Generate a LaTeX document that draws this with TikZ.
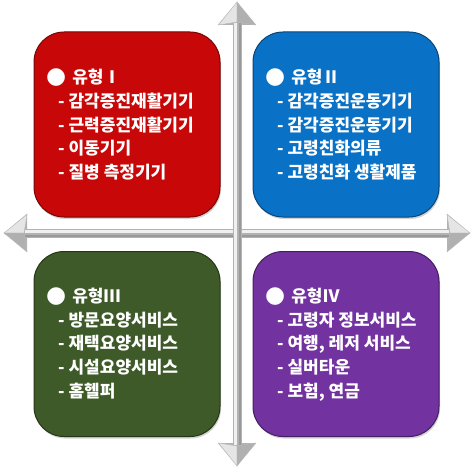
\documentclass[tikz,border=0pt]{standalone}
\usepackage{fontspec}
\newfontfamily\kr{Noto Sans CJK KR}
\newfontfamily\sym{DejaVu Sans}
\usetikzlibrary{arrows.meta,shadows}

\definecolor{typeI}{HTML}{C80808}
\definecolor{typeII}{HTML}{0A72C6}
\definecolor{typeIII}{HTML}{3D5A28}
\definecolor{typeIV}{HTML}{7232A0}

\newcommand{\dotmark}{{\sym\fontsize{23}{23}\selectfont ●}\hspace{6pt}}

\begin{document}
\begin{tikzpicture}[
  x=1pt, y=-1pt,
  quad/.style={rectangle,rounded corners=30pt,minimum width=186pt,minimum height=185pt,
    fill=#1,draw=#1!60!black,line width=1pt,
    drop shadow={opacity=0.35,shadow xshift=1pt,shadow yshift=-2pt}},
  head/.style={anchor=base west,inner sep=0pt,text=white,
    font=\kr\bfseries\fontsize{17}{20}\selectfont},
  item/.style={head},
  axis/.style={line width=9pt,draw=gray!60,
    {Triangle[length=23pt,width=37pt]}-{Triangle[length=23pt,width=37pt]}},
  shine/.style={line width=3pt,draw=gray!12,shorten <=21pt,shorten >=21pt},
  shade/.style={line width=2.5pt,draw=gray!80,shorten <=21pt,shorten >=21pt},
  litface/.style={fill=gray!20,draw=gray!55,line width=0.4pt},
  darkface/.style={fill=gray!62,draw=gray!55,line width=0.4pt}
]
  \useasboundingbox (0,0) rectangle (473,468);

  % four types
  \node[quad=typeI]   (t1) at (127,124.5) {};
  \node[quad=typeII]  (t2) at (346,124.5) {};
  \node[quad=typeIII] (t3) at (127,344) {};
  \node[quad=typeIV]  (t4) at (346,344) {};

  % cross
  \coordinate (W) at (4,233);
  \coordinate (E) at (470,233);
  \coordinate (N) at (237,2);
  \coordinate (S) at (237,466);
  \draw[axis] (W) -- (E);
  \draw[shine] ([yshift=2pt]W) -- ([yshift=2pt]E);
  \draw[shade] ([yshift=-3pt]W) -- ([yshift=-3pt]E);
  \draw[axis] (N) -- (S);
  \draw[shine] ([xshift=-2pt]N) -- ([xshift=-2pt]S);
  \draw[shade] ([xshift=3pt]N) -- ([xshift=3pt]S);
  \filldraw[litface]  (E) -- ++(-23,-18.5) -- ++(3,18.5) -- cycle;
  \filldraw[darkface] (E) -- ++(-23,18.5) -- ++(3,-18.5) -- cycle;
  \filldraw[litface]  (W) -- ++(23,-18.5) -- ++(-3,18.5) -- cycle;
  \filldraw[darkface] (W) -- ++(23,18.5) -- ++(-3,-18.5) -- cycle;
  \filldraw[litface]  (N) -- ++(-18.5,23) -- ++(18.5,-3) -- cycle;
  \filldraw[darkface] (N) -- ++(18.5,23) -- ++(-18.5,-3) -- cycle;
  \filldraw[litface]  (S) -- ++(-18.5,-23) -- ++(18.5,3) -- cycle;
  \filldraw[darkface] (S) -- ++(18.5,-23) -- ++(-18.5,3) -- cycle;

  % type I
  \node[head] (h1) at (46,84) {\dotmark 유형Ⅰ};
  \node[item] (i11) at (58,107.5) {- 감각증진재활기기};
  \node[item] (i12) at (58,131) {- 근력증진재활기기};
  \node[item] (i13) at (58,154.5) {- 이동기기};
  \node[item] (i14) at (58,178) {- 질병 측정기기};
  % type II
  \node[head] (h2) at (265,84) {\dotmark 유형Ⅱ};
  \node[item] (i21) at (277,107.5) {- 감각증진운동기기};
  \node[item] (i22) at (277,131) {- 감각증진운동기기};
  \node[item] (i23) at (277,154.5) {- 고령친화의류};
  \node[item] (i24) at (277,178) {- 고령친화 생활제품};
  % type III
  \node[head] (h3) at (46,302) {\dotmark 유형Ⅲ};
  \node[item] (i31) at (58,326) {- 방문요양서비스};
  \node[item] (i32) at (58,349.5) {- 재택요양서비스};
  \node[item] (i33) at (58,373) {- 시설요양서비스};
  \node[item] (i34) at (58,397) {- 홈헬퍼};
  % type IV
  \node[head] (h4) at (265,302) {\dotmark 유형Ⅳ};
  \node[item] (i41) at (277,326) {- 고령자 정보서비스};
  \node[item] (i42) at (277,349.5) {- 여행, 레저 서비스};
  \node[item] (i43) at (277,373) {- 실버타운};
  \node[item] (i44) at (277,397) {- 보험, 연금};
\end{tikzpicture}
\end{document}
